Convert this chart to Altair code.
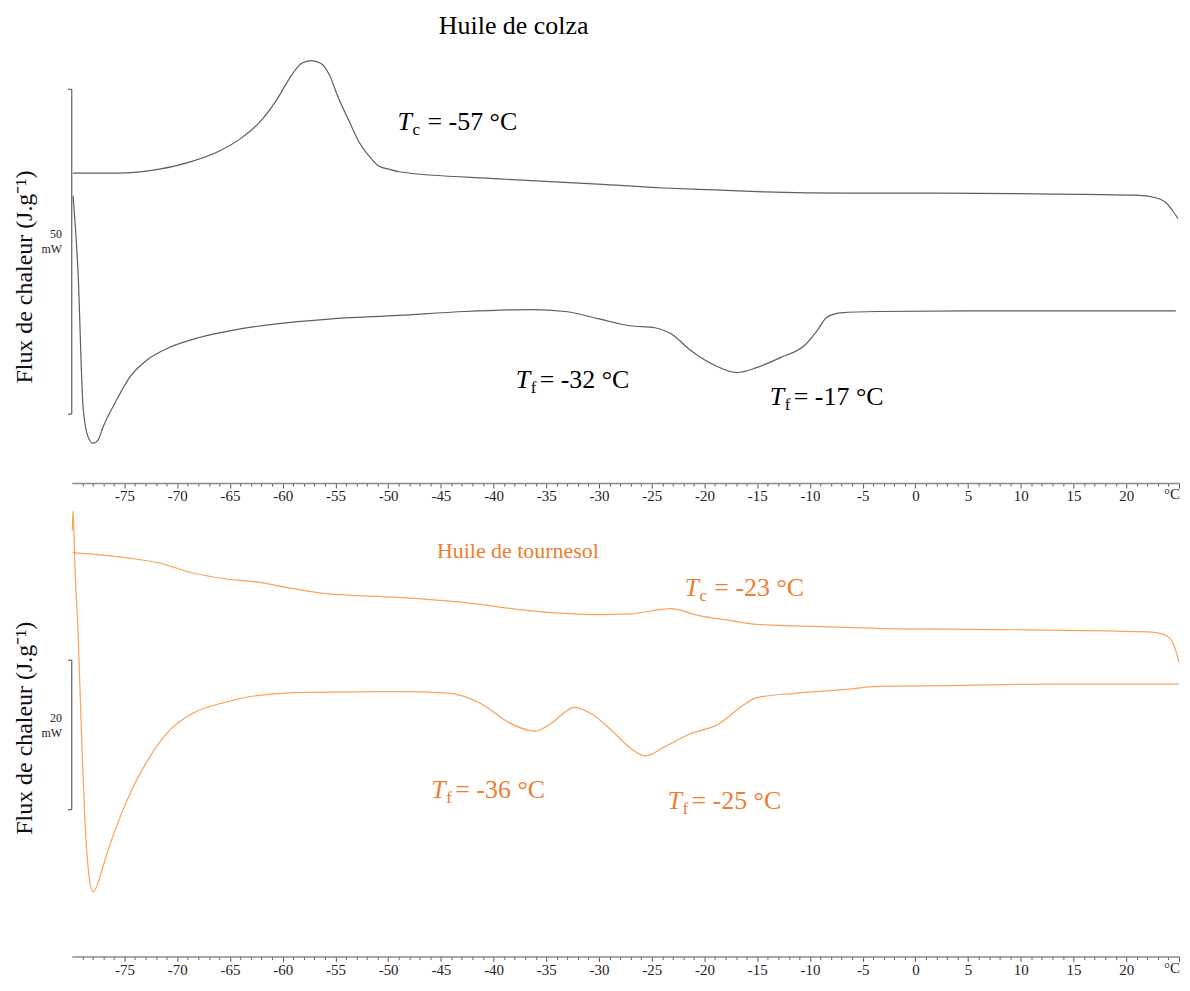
import altair as alt
import pandas as pd

# ---------------- data (temperature in °C, heat flow in mW, arbitrary zero) ----------------
colza_cool_T = [-79.9, -75.7, -71.7, -68.6, -66.0, -64.0, -62.2, -60.6, -59.1, -58.2,
                -57.3, -56.4, -55.6, -54.7, -53.7, -52.8, -51.8, -50.9, -49.7, -49.0,
                -39.5, -30.1, -23.8, -19.0, -14.3, -6.5, 2.0, 11.5, 20.9, 22.8,
                23.8, 24.4, 24.9]
colza_cool_flux = [47.7, 47.7, 48.3, 49.5, 51.1, 53.0, 55.5, 58.9, 62.9, 64.6,
                   65.0, 64.6, 62.9, 59.2, 55.7, 52.6, 50.3, 48.8, 48.2, 47.9,
                   46.8, 46.0, 45.4, 45.1, 44.8, 44.6, 44.6, 44.5, 44.3, 43.9,
                   43.1, 41.9, 40.7]

colza_heat_T = [-79.88, -79.4, -78.93, -78.46, -77.99, -77.51, -77.04, -75.78, -74.5, -72.9,
                -70.7, -67.9, -64.8, -60.6, -55.9, -49.0, -42.7, -36.4, -33.2, -30.1,
                -27.0, -24.7, -23.2, -21.3, -19.0, -16.9, -15.0, -12.8, -10.5, -9.3,
                -8.4, -7.1, -3.6, 5.2, 24.7]
colza_heat_flux = [44.2, 32.2, 11.7, 7.1, 6.1, 6.6, 8.6, 12.7, 16.3, 18.9,
                   20.9, 22.4, 23.5, 24.5, 25.2, 25.8, 26.4, 26.7, 26.4, 25.3,
                   24.2, 23.9, 23.0, 20.4, 18.1, 17.0, 17.8, 19.3, 21.2, 23.5,
                   25.5, 26.2, 26.4, 26.5, 26.5]

tourn_cool_T = [-79.9, -74.8, -71.7, -68.6, -66.0, -62.2, -59.1, -55.9, -49.0, -42.7,
                -36.4, -30.1, -27.0, -23.2, -20.6, -17.5, -15.0, -6.5, -1.7, 7.7,
                21.9, 22.8, 23.8, 24.4, 25.0]
tourn_cool_flux = [55.1, 54.4, 53.7, 52.4, 51.7, 51.1, 50.3, 49.6, 49.1, 48.4,
                   47.3, 46.8, 46.9, 47.6, 46.7, 46.0, 45.5, 45.1, 44.9, 44.8,
                   44.5, 44.4, 44.0, 43.1, 40.4]

tourn_heat_T = [-79.95, -79.88, -79.7, -79.4, -79.08, -78.77, -78.46, -77.99, -77.51, -77.04,
                -75.78, -74.2, -72.63, -70.74, -68.53, -65.38, -62.23, -57.5, -49.0, -44.3,
                -41.2, -38.6, -36.1, -34.8, -32.3, -30.8, -28.5, -27.0, -25.6, -23.8,
                -21.6, -18.5, -16.6, -15.0, -11.2, -6.5, -3.6, 3.0, 12.4, 25.0]
tourn_heat_flux = [58.0, 60.7, 53.1, 44.3, 30.9, 19.7, 13.1, 9.7, 10.9, 13.1,
                   18.4, 23.7, 27.7, 31.3, 33.6, 35.1, 36.0, 36.4, 36.5, 36.3,
                   34.9, 32.4, 31.2, 32.0, 34.4, 33.6, 30.9, 28.9, 27.9, 29.1,
                   30.7, 32.3, 34.4, 35.7, 36.3, 36.8, 37.2, 37.3, 37.5, 37.5]

# annotations: subscript letter, rest of text, anchor temperature, anchor flux
colza_ann_sub = ["c", "f", "f"]
colza_ann_rest = ["= -57 °C", "= -32 °C", "= -17 °C"]
colza_ann_T = [-49.1, -37.9, -13.8]
colza_ann_flux = [55.5, 15.8, 13.2]

tourn_ann_sub = ["c", "f", "f"]
tourn_ann_rest = ["= -23 °C", "= -36 °C", "= -25 °C"]
tourn_ann_T = [-21.9, -45.9, -23.5]
tourn_ann_flux = [50.3, 23.3, 21.9]

# scale bars (mW)
colza_bar = [10.6, 60.6]   # 50 mW
tourn_bar = [20.7, 40.7]   # 20 mW

tick_values = list(range(-79, 26))

SERIF = "Liberation Serif"
GRAY = "#5e5e5e"
ORANGE_LINE = "#f7a35c"
ORANGE_TEXT = "#ed7d31"

x_axis = alt.Axis(
    values=tick_values,
    labelExpr="(datum.value % 5 === 0 && datum.value <= 20) ? '' + datum.value : (datum.value === 24 ? '°C' : '')",
    labelOverlap=False, labelFlush=False, labelBound=False,
    labelOffset={"condition": {"test": "datum.value === 24", "value": 3}, "value": 0},
    title=None, grid=False,
    domainColor="#8a8a8a", domainWidth=1.5,
    tickColor="#555555", tickWidth=1,
    tickSize={"condition": {"test": "datum.value % 5 === 0", "value": 5}, "value": 3},
    labelFont=SERIF, labelFontSize=15, labelColor="#222222", labelPadding=1,
)


def panel(cool_T, cool_F, heat_T, heat_F, ann_sub, ann_rest, ann_T, ann_F,
          bar, bar_label, title_text, title_T, title_F, title_size, title_color,
          line_color, text_color, ydom, height, label_F, ylab_F):
    xs = alt.Scale(domain=[-80, 25], nice=False, zero=False)
    ys = alt.Scale(domain=ydom, nice=False, zero=False)

    def X(field="T"):
        return alt.X(f"{field}:Q", scale=xs, axis=x_axis)

    def Y(field="flux"):
        return alt.Y(f"{field}:Q", scale=ys, axis=None)

    cool = pd.DataFrame({"T": cool_T, "flux": cool_F, "i": range(len(cool_T))})
    heat = pd.DataFrame({"T": heat_T, "flux": heat_F, "i": range(len(heat_T))})

    lines = [
        alt.Chart(df).mark_line(color=line_color, strokeWidth=1.2, interpolate="monotone")
        .encode(x=X(), y=Y(), order="i:Q")
        for df in (cool, heat)
    ]

    ann = pd.DataFrame({"T": ann_T, "flux": ann_F, "sub": ann_sub, "rest": ann_rest})
    a_T = alt.Chart(ann).mark_text(align="left", baseline="middle", font=SERIF, fontSize=26,
                                   fontStyle="italic", color=text_color, text="T").encode(x=X(), y=Y())
    a_sub = alt.Chart(ann).mark_text(align="left", baseline="middle", font=SERIF, fontSize=17,
                                     color=text_color, dx=15, dy=8).encode(x=X(), y=Y(), text="sub:N")
    a_rest_c = alt.Chart(ann).transform_filter("datum.sub === 'c'").mark_text(
        align="left", baseline="middle", font=SERIF, fontSize=26, color=text_color, dx=30
    ).encode(x=X(), y=Y(), text="rest:N")
    a_rest_f = alt.Chart(ann).transform_filter("datum.sub === 'f'").mark_text(
        align="left", baseline="middle", font=SERIF, fontSize=26, color=text_color, dx=24
    ).encode(x=X(), y=Y(), text="rest:N")

    title = alt.Chart(pd.DataFrame({"T": [title_T], "flux": [title_F], "t": [title_text]})).mark_text(
        align="center", baseline="middle", font=SERIF, fontSize=title_size, color=title_color
    ).encode(x=X(), y=Y(), text="t:N")

    bar_df = pd.DataFrame({"T": [-80.0], "lo": [bar[0]], "hi": [bar[1]]})
    bar_rule = alt.Chart(bar_df).mark_rule(color="#444444", strokeWidth=1).encode(
        x=X(), y=Y("lo"), y2="hi:Q")
    ends_df = pd.DataFrame({"T": [-80.35, -80.35], "T2": [-80.0, -80.0], "flux": bar})
    bar_ends = alt.Chart(ends_df).mark_rule(color="#444444", strokeWidth=1).encode(
        x=X(), x2="T2:Q", y=Y())

    lab_df = pd.DataFrame({"T": [-81.5, -81.9], "flux": label_F, "t": [bar_label, "mW"]})
    bar_text = alt.Chart(lab_df).mark_text(align="center", baseline="middle", font=SERIF,
                                           fontSize=12, color="#222222").encode(x=X(), y=Y(), text="t:N")

    ylab = alt.Chart(pd.DataFrame({"T": [-84.4], "flux": [ylab_F], "t": ["Flux de chaleur (J.g⁻¹)"]})).mark_text(
        align="center", baseline="middle", font=SERIF, fontSize=24, angle=270, color="#111111"
    ).encode(x=X(), y=Y(), text="t:N")

    return alt.layer(bar_rule, bar_ends, bar_text, ylab, title, *lines, a_T, a_sub, a_rest_c, a_rest_f).properties(
        width=1111, height=height)


# top panel: plot area 475 px high, 6.52 px per mW
top = panel(colza_cool_T, colza_cool_flux, colza_heat_T, colza_heat_flux,
            colza_ann_sub, colza_ann_rest, colza_ann_T, colza_ann_flux,
            colza_bar, "50", "Huile de colza", -38.1, 70.4, 26, "#000000",
            GRAY, "#000000", [0, 72.85], 475, [38.3, 36.0], 31.7)

# bottom panel: plot area 451 px high, 7.5 px per mW
bottom = panel(tourn_cool_T, tourn_cool_flux, tourn_heat_T, tourn_heat_flux,
               tourn_ann_sub, tourn_ann_rest, tourn_ann_T, tourn_ann_flux,
               tourn_bar, "20", "Huile de tournesol", -37.7, 55.3, 22, ORANGE_TEXT,
               ORANGE_LINE, ORANGE_TEXT, [1.07, 61.2], 451, [32.9, 30.9], 31.6)

chart = alt.vconcat(top, bottom, spacing=3).properties(
    padding={"left": 5, "top": 0, "right": 0, "bottom": 0},
    background="white",
).configure_view(stroke=None)

chart.save("out.html", embed_options={"renderer": "svg", "actions": False})
